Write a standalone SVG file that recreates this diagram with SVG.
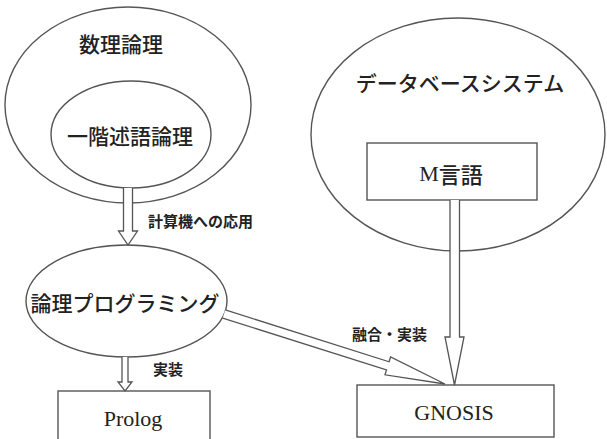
<svg xmlns="http://www.w3.org/2000/svg" width="607" height="439" viewBox="0 0 607 439">
<style>
.shape{fill:#fff;stroke:#555;stroke-width:1.4}
.arrow{fill:#fff;stroke:#555;stroke-width:1.3;stroke-linejoin:miter}
.jp{font-family:"Noto Sans CJK JP","Noto Sans",sans-serif;fill:#222}
.node{font-size:21px;font-weight:500}
.lbl{font-size:15px;font-weight:bold}
.serif{font-family:"Liberation Serif",serif;fill:#222}
</style>
<rect width="607" height="439" fill="#fff"/>
<g id="suri-ronri">
<ellipse class="shape" cx="128" cy="105" rx="123" ry="98"/>
<text class="jp node" x="121" y="43" text-anchor="middle" dominant-baseline="central">数理論理</text>
</g>
<g id="ikkai-jutsugo-ronri">
<ellipse class="shape" cx="131" cy="134.5" rx="80" ry="53.5"/>
<text class="jp node" x="130" y="135" text-anchor="middle" dominant-baseline="central" font-size="22">一階述語論理</text>
</g>
<g id="database-system">
<ellipse class="shape" cx="458" cy="134.5" rx="147" ry="116.5"/>
<text class="jp node" x="460" y="82" text-anchor="middle" dominant-baseline="central" font-size="20">データベースシステム</text>
</g>
<g id="m-gengo">
<rect class="shape" x="367" y="143" width="170" height="57"/>
<text x="451" y="173" text-anchor="middle" dominant-baseline="central" font-size="22"><tspan class="serif">M</tspan><tspan class="jp" font-weight="500">言語</tspan></text>
</g>
<g id="ronri-programming">
<ellipse class="shape" cx="126.5" cy="301" rx="100.5" ry="56"/>
<text class="jp node" x="125" y="302" text-anchor="middle" dominant-baseline="central" font-size="20">論理プログラミング</text>
</g>
<g id="prolog">
<rect class="shape" x="58" y="391" width="152" height="60"/>
<text class="serif" x="133" y="418" text-anchor="middle" dominant-baseline="central" font-size="22">Prolog</text>
</g>
<g id="gnosis">
<rect class="shape" x="357" y="385" width="197" height="52"/>
<text class="serif" x="454" y="412" text-anchor="middle" dominant-baseline="central" font-size="22">GNOSIS</text>
</g>
<g id="connectors">
<path class="arrow" d="M123.5,188 L123.5,231 L118.5,231 L128,245 L137.5,231 L132.5,231 L132.5,188"/>
<path class="arrow" d="M122,357 L122,382 L118,382 L125,391 L132,382 L128,382 L128,357"/>
<path class="arrow" d="M450,200 L450,337 L445,337 L454.5,385 L464,337 L459.5,337 L459.5,200"/>
<path class="arrow" d="M225.3,309.9 L389.1,361.8 L390.6,357 L445,384 L385,374.8 L386.5,370 L222.7,318.1"/>
<text class="jp lbl" x="148" y="220" dominant-baseline="central" font-size="16">計算機への応用</text>
<text class="jp lbl" x="153" y="368" dominant-baseline="central" font-size="16">実装</text>
<text class="jp lbl" x="352" y="333" dominant-baseline="central">融合・実装</text>
</g>
</svg>
